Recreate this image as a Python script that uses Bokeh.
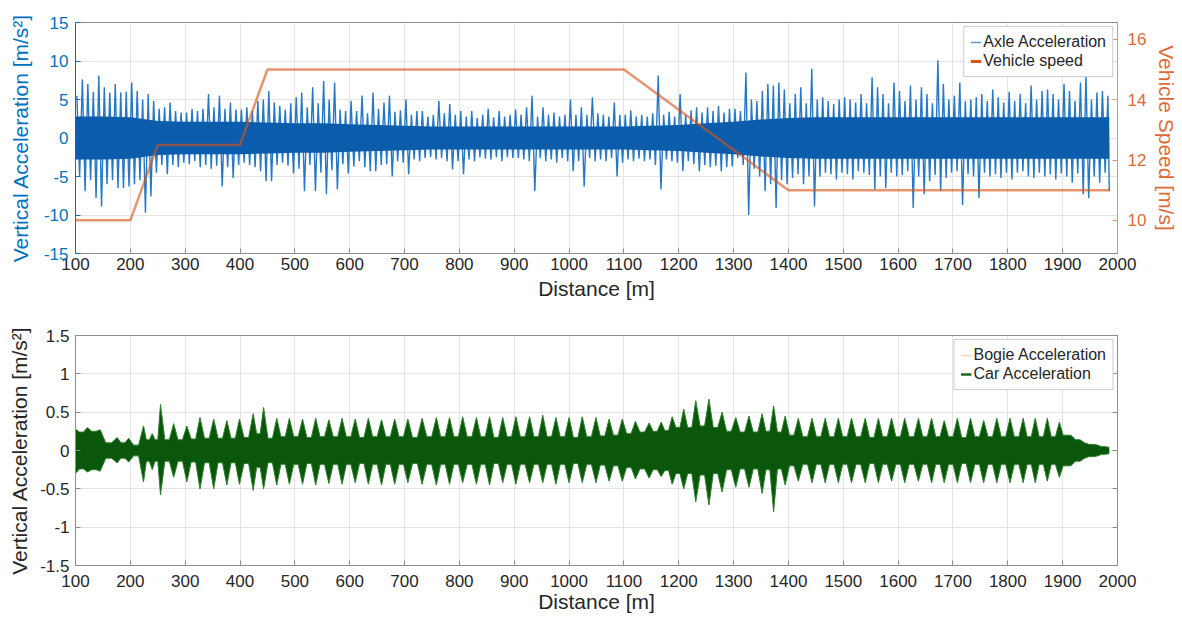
import numpy as np
from bokeh.plotting import figure
from bokeh.models import (Range1d, LinearAxis, FixedTicker, Legend, LegendItem,
                          CustomJSTickFormatter)
from bokeh.layouts import column
from bokeh.embed import file_html
from bokeh.resources import INLINE

# ---------------- data ----------------
x_ticks = list(range(100, 2001, 100))
acc_ticks = [-15, -10, -5, 0, 5, 10, 15]
speed_ticks = [10, 12, 14, 16]
car_ticks = [-1.5, -1, -0.5, 0, 0.5, 1, 1.5]
car_tick_labels = ["-1.5", "-1", "-0.5", "0", "0.5", "1", "1.5"]

# vehicle speed profile [m/s]
speed_d = [100, 200, 250, 400, 450, 1100, 1400, 1985]
speed_v = [10, 10, 12.5, 12.5, 15, 15, 11, 11]

# axle acceleration: dense core amplitude every 50 m
core_d = [100, 150, 200, 250, 300, 350, 400, 450, 500, 550, 600, 650, 700, 750,
          800, 850, 900, 950, 1000, 1050, 1100, 1150, 1200, 1250, 1300, 1350,
          1400, 1450, 1500, 1550, 1600, 1650, 1700, 1750, 1800, 1850, 1900, 1950, 1985]
core_amp = [2.8, 2.8, 2.7, 2.2, 2.1, 2.1, 2.1, 2.0, 1.9, 1.9, 1.8, 1.7, 1.6, 1.5,
            1.5, 1.5, 1.5, 1.5, 1.5, 1.5, 1.5, 1.6, 1.7, 1.9, 2.1, 2.4,
            2.6, 2.7, 2.7, 2.7, 2.7, 2.7, 2.7, 2.7, 2.7, 2.7, 2.7, 2.7, 2.7]

# axle acceleration: peak max / min in each 10 m bin
axle_bin = list(range(100, 1990, 10))
axle_hi = [
    5.5, 7.6, 7.0, 6.0, 8.1, 6.6, 5.9, 7.0, 5.9, 6.0,
    7.2, 6.1, 5.0, 5.7, 4.8, 3.8, 4.0, 4.6, 3.5, 3.3,
    3.3, 3.8, 3.5, 3.8, 5.7, 4.0, 5.5, 3.8, 4.6, 3.7,
    3.7, 4.0, 3.5, 4.8, 5.0, 6.1, 4.6, 4.2, 3.7, 4.5,
    5.3, 5.9, 4.0, 6.6, 4.5, 7.4, 5.0, 7.2, 3.7, 3.5,
    4.8, 3.5, 5.5, 3.2, 5.9, 3.8, 4.6, 5.5, 3.4, 3.6,
    5.0, 3.0, 3.5, 3.5, 2.8, 3.0, 4.8, 3.2, 4.4, 3.0,
    3.5, 2.8, 3.5, 2.6, 3.0, 3.8, 2.7, 3.5, 2.8, 3.0,
    3.7, 3.0, 4.0, 5.5, 2.8, 4.0, 3.0, 3.3, 2.8, 3.0,
    5.0, 3.0, 4.0, 3.0, 5.3, 3.2, 3.0, 2.8, 4.6, 3.0,
    3.0, 3.6, 2.8, 3.0, 2.8, 3.2, 8.1, 3.0, 3.4, 2.8,
    5.7, 3.0, 3.6, 4.0, 3.3, 4.0, 3.5, 4.2, 3.3, 3.8,
    3.8, 3.5, 8.5, 5.0, 4.8, 6.1, 7.0, 6.8, 7.2, 6.3,
    4.5, 5.7, 6.6, 4.5, 9.0, 5.0, 5.3, 4.8, 4.4, 5.0,
    5.3, 5.0, 4.6, 5.7, 4.5, 7.9, 6.6, 5.7, 4.5, 7.2,
    6.1, 4.8, 6.8, 5.0, 6.6, 5.7, 4.5, 10.1, 7.0, 5.0,
    5.5, 7.2, 4.8, 5.0, 5.3, 5.7, 4.8, 6.3, 5.3, 4.6,
    6.0, 4.8, 5.7, 4.5, 6.8, 5.0, 6.1, 6.3, 5.7, 5.0,
    7.0, 6.1, 4.8, 7.2, 8.1, 5.0, 5.9, 6.1, 5.5,
]
axle_lo = [
    -5.0, -6.9, -5.5, -7.8, -8.9, -6.0, -5.5, -6.5, -6.5, -6.3,
    -6.0, -5.5, -9.7, -7.6, -4.5, -3.5, -4.7, -3.5, -3.8, -3.2,
    -3.4, -3.0, -3.8, -3.5, -4.0, -3.6, -6.3, -3.8, -5.2, -3.5,
    -3.2, -3.5, -3.8, -4.3, -5.6, -5.6, -3.5, -3.2, -3.6, -4.6,
    -4.0, -6.9, -3.5, -6.9, -4.5, -7.3, -4.2, -6.7, -3.4, -4.6,
    -3.7, -3.0, -3.8, -4.3, -4.3, -3.5, -3.4, -5.0, -3.0, -3.2,
    -4.7, -2.8, -3.0, -2.6, -2.5, -2.8, -2.6, -3.0, -4.1, -3.0,
    -4.7, -2.8, -3.0, -2.5, -2.7, -2.8, -2.5, -3.0, -2.5, -2.6,
    -2.6, -2.8, -3.0, -6.9, -2.6, -3.0, -2.8, -3.2, -2.6, -3.0,
    -4.3, -3.0, -6.3, -2.6, -3.0, -2.8, -3.0, -2.6, -5.0, -3.2,
    -2.8, -3.0, -2.7, -3.0, -2.8, -3.5, -6.7, -2.8, -3.0, -3.2,
    -4.3, -3.0, -3.4, -4.3, -3.5, -3.8, -3.6, -4.3, -3.8, -3.7,
    -2.6, -3.5, -10.0, -4.0, -5.0, -6.9, -6.0, -9.1, -5.5, -6.0,
    -5.2, -4.7, -6.0, -5.0, -8.9, -5.0, -4.5, -4.7, -5.4, -4.5,
    -4.7, -5.4, -4.3, -4.5, -4.8, -6.7, -5.0, -6.5, -4.5, -5.0,
    -4.8, -4.3, -9.1, -5.0, -7.3, -5.6, -4.8, -6.9, -5.2, -4.5,
    -4.3, -8.7, -4.7, -5.0, -7.8, -4.5, -5.0, -4.7, -5.2, -4.5,
    -5.4, -4.5, -4.3, -5.0, -5.2, -4.5, -5.0, -4.7, -5.4, -4.6,
    -5.0, -5.8, -4.6, -7.3, -7.8, -5.0, -5.8, -4.5, -6.9,
]

# car acceleration: burst peaks (envelope max/min) and trough amplitude between bursts
car_peak_d = [100, 122, 145, 176, 197,
              224, 240, 255, 279, 303, 327, 352, 376, 399, 424, 443,
              467, 490, 514, 538, 562, 586, 610, 634, 658, 682, 706, 732, 758, 782, 806,
              831, 855, 879, 903, 928, 952, 976, 1000, 1024, 1049, 1073, 1097, 1121, 1146, 1168,
              1188, 1209, 1231, 1255, 1279, 1304, 1328, 1352, 1373, 1394,
              1418, 1443, 1467, 1491, 1515, 1540, 1564, 1588, 1612, 1637, 1661,
              1684, 1708, 1732, 1756, 1780, 1804, 1828, 1850, 1872, 1894,
              1915, 1940, 1964, 1985]
car_peak_hi = [0.28, 0.30, 0.27, 0.17, 0.16,
               0.32, 0.22, 0.60, 0.35, 0.32, 0.43, 0.41, 0.39, 0.41, 0.48, 0.56,
               0.42, 0.42, 0.41, 0.42, 0.40, 0.42, 0.41, 0.42, 0.40, 0.41, 0.41, 0.42, 0.43, 0.43, 0.44,
               0.43, 0.44, 0.43, 0.44, 0.44, 0.46, 0.43, 0.43, 0.44, 0.43, 0.41, 0.41, 0.38, 0.36, 0.37,
               0.44, 0.54, 0.65, 0.67, 0.50, 0.43, 0.45, 0.48, 0.58, 0.45,
               0.42, 0.42, 0.42, 0.42, 0.42, 0.42, 0.42, 0.42, 0.42, 0.42, 0.42,
               0.39, 0.42, 0.42, 0.39, 0.42, 0.42, 0.42, 0.42, 0.42, 0.37,
               0.20, 0.10, 0.07, 0.04]
car_peak_lo = [-0.30, -0.28, -0.27, -0.16, -0.15,
               -0.41, -0.25, -0.58, -0.35, -0.41, -0.50, -0.50, -0.45, -0.44, -0.52, -0.50,
               -0.45, -0.44, -0.44, -0.45, -0.43, -0.44, -0.42, -0.44, -0.45, -0.44, -0.42, -0.44, -0.45, -0.44, -0.42,
               -0.44, -0.45, -0.42, -0.44, -0.42, -0.42, -0.44, -0.42, -0.42, -0.42, -0.40, -0.40, -0.37, -0.36, -0.34,
               -0.44, -0.50, -0.67, -0.71, -0.54, -0.48, -0.48, -0.56, -0.80, -0.45,
               -0.40, -0.42, -0.42, -0.42, -0.42, -0.42, -0.42, -0.40, -0.42, -0.40, -0.42,
               -0.42, -0.42, -0.42, -0.42, -0.42, -0.42, -0.42, -0.42, -0.40, -0.35,
               -0.20, -0.10, -0.07, -0.04]
car_trough = [0.24, 0.25, 0.10, 0.10, 0.07,
              0.14, 0.14, 0.14, 0.14, 0.15, 0.16, 0.16, 0.16, 0.17, 0.22, 0.16,
              0.18, 0.18, 0.17, 0.18, 0.18, 0.18, 0.17, 0.18, 0.18, 0.18, 0.17, 0.18, 0.18, 0.18, 0.18,
              0.18, 0.17, 0.18, 0.18, 0.18, 0.18, 0.18, 0.17, 0.18, 0.19, 0.20, 0.22, 0.24, 0.25,
              0.26,
              0.30, 0.30, 0.32, 0.30, 0.25, 0.24, 0.24, 0.25, 0.24,
              0.20,
              0.18, 0.18, 0.18, 0.18, 0.18, 0.17, 0.18, 0.18, 0.18, 0.18,
              0.18, 0.18, 0.17, 0.18, 0.18, 0.18, 0.18, 0.18, 0.18, 0.18,
              0.20,
              0.14, 0.08, 0.05]

# ---------------- styling ----------------
FONT = "Liberation Sans"
TXT = "#262626"
BLUE = "#0072BD"
ORANGE = "#D95319"
GRID = "#e3e3e3"
FRAME = "#8c8c8c"
TICK_SIZE = "17px"
LABEL_SIZE = "21px"


def style_axis(ax, color):
    ax.major_label_text_font = FONT
    ax.major_label_text_font_size = TICK_SIZE
    ax.major_label_text_color = color
    ax.axis_label_text_font = FONT
    ax.axis_label_text_font_size = LABEL_SIZE
    ax.axis_label_text_font_style = "normal"
    ax.axis_label_text_color = color
    ax.major_tick_in = 5
    ax.major_tick_out = 0
    ax.minor_tick_line_color = None
    ax.major_tick_line_color = FRAME
    ax.axis_line_color = FRAME


def blank_axis(ax):
    ax.formatter = CustomJSTickFormatter(code="return ''")
    ax.major_tick_in = 5
    ax.major_tick_out = 0
    ax.minor_tick_line_color = None
    ax.major_tick_line_color = FRAME
    ax.axis_line_color = FRAME
    ax.major_label_standoff = 0


def style_legend(lg):
    lg.label_text_font = FONT
    lg.label_text_font_size = "16px"
    lg.label_text_color = TXT
    lg.glyph_width = 11
    lg.glyph_height = 16
    lg.label_height = 16
    lg.label_standoff = 2
    lg.spacing = 1
    lg.padding = 6
    lg.margin = 4
    lg.border_line_color = "#9a9a9a"
    lg.border_line_width = 1
    lg.background_fill_color = "white"
    lg.background_fill_alpha = 1


# ---------------- top panel ----------------
p1 = figure(width=1181, height=306, output_backend="svg", toolbar_location=None,
            x_range=Range1d(100, 2000), y_range=Range1d(-15, 15),
            min_border_left=75, min_border_right=61, min_border_top=22, min_border_bottom=53)
p1.extra_y_ranges = {"speed": Range1d(8.9, 16.56)}
p1.outline_line_color = FRAME

bins = np.array(axle_bin, dtype=float)
xz = np.empty(2 * len(bins))
xz[0::2] = bins + 2.5
xz[1::2] = np.minimum(bins + 7.5, 1985)
yz = np.empty(2 * len(bins))
yz[0::2] = axle_hi
yz[1::2] = axle_lo

p1.line(xz, yz, line_color="#2677c4", line_width=1.4)
core_amp_a = np.array(core_amp)
p1.varea(x=core_d, y1=-core_amp_a, y2=core_amp_a, fill_color="#0b5cab")
p1.line(speed_d, speed_v, y_range_name="speed", line_color=ORANGE, line_alpha=0.62,
        line_width=2.5)

# one-point renderers (draw nothing in the plot) that only give the legend its swatches
leg_axle = p1.line(x=[axle_bin[0]], y=[axle_hi[0]], line_color="#5d9bd6", line_width=1.5)
leg_speed = p1.line(x=[speed_d[0]], y=[speed_v[0]], line_color=ORANGE, line_width=3,
                    y_range_name="speed")

style_axis(p1.xaxis[0], TXT)
p1.xaxis[0].ticker = FixedTicker(ticks=x_ticks)
p1.xaxis[0].major_label_overrides = {t: str(t) for t in x_ticks}
p1.xaxis[0].axis_label = "Distance [m]"
p1.xaxis[0].major_label_standoff = 4
p1.xaxis[0].axis_label_standoff = 4

style_axis(p1.yaxis[0], BLUE)
p1.yaxis[0].axis_line_color = BLUE
p1.yaxis[0].major_tick_line_color = BLUE
p1.yaxis[0].ticker = FixedTicker(ticks=acc_ticks)
p1.yaxis[0].major_label_overrides = {t: str(t) for t in acc_ticks}
p1.yaxis[0].axis_label = "Vertical Acceleration [m/s²]"
p1.yaxis[0].major_label_standoff = 7
p1.yaxis[0].axis_label_standoff = 9

r_ax = LinearAxis(y_range_name="speed", ticker=FixedTicker(ticks=speed_ticks),
                  axis_label="Vehicle Speed [m/s]")
style_axis(r_ax, "#DD6A35")
r_ax.axis_line_color = "#E8906A"
r_ax.major_tick_line_color = "#E8906A"
r_ax.major_label_overrides = {t: str(t) for t in speed_ticks}
r_ax.major_label_standoff = 10
r_ax.axis_label_standoff = 6
p1.add_layout(r_ax, "right")

p1.xgrid.ticker = FixedTicker(ticks=x_ticks)
p1.ygrid.ticker = FixedTicker(ticks=acc_ticks)
p1.xgrid.grid_line_color = GRID
p1.ygrid.grid_line_color = GRID

leg1 = Legend(items=[LegendItem(label="Axle Acceleration", renderers=[leg_axle]),
                     LegendItem(label="Vehicle speed", renderers=[leg_speed])],
              location="top_right")
style_legend(leg1)
p1.add_layout(leg1)

# ---------------- bottom panel ----------------
p2 = figure(width=1181, height=313, output_backend="svg", toolbar_location=None,
            x_range=Range1d(100, 2000), y_range=Range1d(-1.5, 1.5),
            min_border_left=75, min_border_right=61, min_border_top=29, min_border_bottom=54)
p2.outline_line_color = FRAME

cx, chi, clo = [], [], []
for i in range(len(car_peak_d)):
    cx.append(car_peak_d[i]); chi.append(car_peak_hi[i]); clo.append(car_peak_lo[i])
    if i < len(car_trough):
        g = car_peak_d[i + 1] - car_peak_d[i]
        for f in (0.33, 0.67):
            cx.append(car_peak_d[i] + f * g)
            chi.append(car_trough[i]); clo.append(-car_trough[i])

p2.varea(x=cx, y1=clo, y2=chi, fill_color="#0a560a")
p2.line(cx, chi, line_color="#2c7f2c", line_width=1)
p2.line(cx, clo, line_color="#2c7f2c", line_width=1)

leg_bogie = p2.line(x=[car_peak_d[0]], y=[0], line_color="#f2dcae", line_width=1.5)
leg_car = p2.line(x=[car_peak_d[0]], y=[car_peak_hi[0]], line_color="#1f6a22", line_width=2.5)

style_axis(p2.xaxis[0], TXT)
p2.xaxis[0].ticker = FixedTicker(ticks=x_ticks)
p2.xaxis[0].major_label_overrides = {t: str(t) for t in x_ticks}
p2.xaxis[0].axis_label = "Distance [m]"
p2.xaxis[0].major_label_standoff = 9
p2.xaxis[0].axis_label_standoff = 0

style_axis(p2.yaxis[0], TXT)
p2.yaxis[0].ticker = FixedTicker(ticks=car_ticks)
p2.yaxis[0].major_label_overrides = dict(zip(car_ticks, car_tick_labels))
p2.yaxis[0].axis_label = "Vertical Acceleration [m/s²]"
p2.yaxis[0].major_label_standoff = 6
p2.yaxis[0].axis_label_standoff = 6

r2 = LinearAxis(ticker=FixedTicker(ticks=car_ticks))
blank_axis(r2)
p2.add_layout(r2, "right")

p2.xgrid.ticker = FixedTicker(ticks=x_ticks)
p2.ygrid.ticker = FixedTicker(ticks=car_ticks)
p2.xgrid.grid_line_color = GRID
p2.ygrid.grid_line_color = GRID

leg2 = Legend(items=[LegendItem(label="Bogie Acceleration", renderers=[leg_bogie]),
                     LegendItem(label="Car Acceleration", renderers=[leg_car])],
              location="top_right")
style_legend(leg2)
p2.add_layout(leg2)

layout = column(p1, p2, spacing=0)
open("out.html", "w").write(file_html(layout, INLINE))
